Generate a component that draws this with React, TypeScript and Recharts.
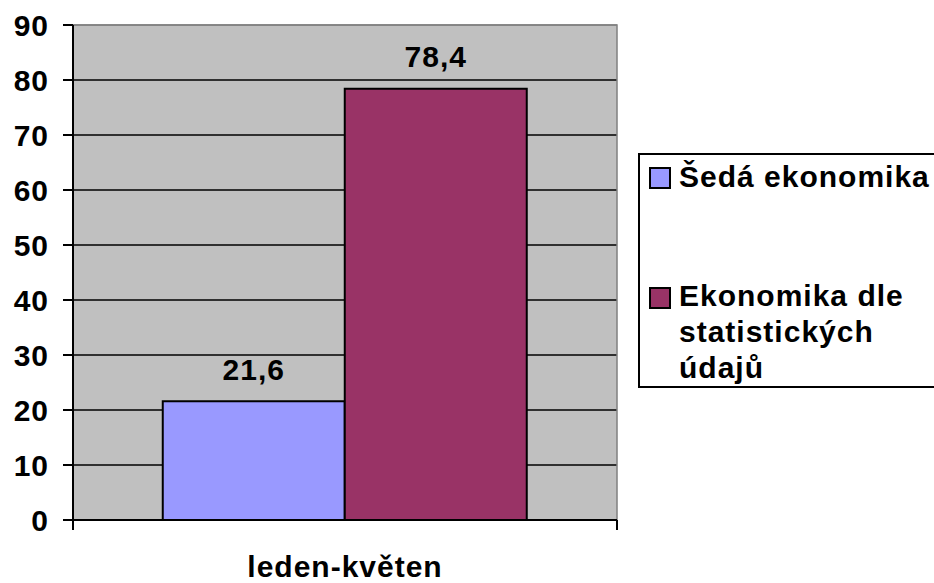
import { Bar, BarChart, CartesianGrid, LabelList, ReferenceArea, XAxis, YAxis } from "recharts";

// chart values
const periods = ["leden-květen"];
const shadowEconomy = [21.6];
const officialEconomy = [78.4];
const yTicks = [0, 10, 20, 30, 40, 50, 60, 70, 80, 90];
const seriesNames = ["Šedá ekonomika", "Ekonomika dle statistických údajů"];
const seriesColors = ["#9999ff", "#993366"];

const W = 934;
const H = 583;
const MARGIN = { top: 25, right: 317, bottom: 0, left: 0 };
const Y_W = 73;
const X_H = 63;
const FONT = '"Liberation Sans", Arial, Helvetica, sans-serif';
const TXT = { fontFamily: FONT, fontSize: 30, fontWeight: 700, letterSpacing: 1 };

const rows = periods.map((p, i) => ({
  period: p,
  shadow: shadowEconomy[i],
  official: officialEconomy[i],
}));

const fmt = (v: unknown) => String(v).replace(".", ",");

// half of one category band, derived from the layout
const HALF_BAND = (W - MARGIN.left - MARGIN.right - Y_W) / periods.length / 2;

const XTick = (props: any) => {
  const { x, y, payload } = props;
  return (
    <g>
      <line x1={x - HALF_BAND} x2={x - HALF_BAND} y1={y} y2={y + 10} stroke="#000" strokeWidth={2} />
      <line x1={x + HALF_BAND} x2={x + HALF_BAND} y1={y} y2={y + 10} stroke="#000" strokeWidth={2} />
      <text x={x} y={y + 57} textAnchor="middle" fill="#000" style={TXT}>
        {payload.value}
      </text>
    </g>
  );
};

const gridLine = (p: any) => {
  const top = p.y1 <= MARGIN.top + 0.5;
  return (
    <line
      key={`h-${p.index}`}
      x1={p.x1}
      x2={p.x2}
      y1={p.y1}
      y2={p.y2}
      stroke={top ? "#808080" : "#000"}
      strokeWidth={1.5}
    />
  );
};

function SideLegend() {
  const sq = (color: string, top: number) => (
    <div
      style={{
        position: "absolute",
        left: 9,
        top,
        width: 18,
        height: 18,
        background: color,
        border: "2px solid #000",
      }}
    />
  );
  const label = (text: string, top: number) => (
    <div
      style={{
        position: "absolute",
        left: 39,
        top,
        width: 256,
        fontFamily: FONT,
        fontSize: 30,
        fontWeight: 700,
        letterSpacing: 1,
        lineHeight: "36px",
        color: "#000",
      }}
    >
      {text}
    </div>
  );
  return (
    <div
      style={{
        position: "absolute",
        left: 638,
        top: 153,
        width: W - 638,
        height: 235,
        borderTop: "2px solid #000",
        borderLeft: "2px solid #000",
        borderBottom: "2px solid #000",
        background: "#fff",
        boxSizing: "border-box",
        overflow: "hidden",
      }}
    >
      {sq(seriesColors[0], 12)}
      {label(seriesNames[0], 4)}
      {sq(seriesColors[1], 132)}
      {label(seriesNames[1], 123)}
    </div>
  );
}

export default function App() {
  return (
    <div style={{ position: "relative", width: W, height: H, background: "#fff" }}>
      <style>{"body{margin:0;overflow:hidden}"}</style>
      <BarChart
        width={W}
        height={H}
        data={rows}
        margin={MARGIN}
        barCategoryGap="16.5%"
        barGap={0}
      >
        <CartesianGrid
          vertical={false}
          horizontal={gridLine}
          fill="#c0c0c0"
          fillOpacity={1}
        />
        <ReferenceArea y1={0} y2={90} fill="none" stroke="#808080" strokeWidth={1.5} ifOverflow="visible" />
        <XAxis
          dataKey="period"
          height={X_H}
          axisLine={{ stroke: "#000", strokeWidth: 2 }}
          tickLine={false}
          tickSize={0}
          tickMargin={0}
          tick={<XTick />}
        />
        <YAxis
          width={Y_W}
          domain={[0, 90]}
          ticks={yTicks}
          interval={0}
          axisLine={{ stroke: "#000", strokeWidth: 2 }}
          tickLine={{ stroke: "#000", strokeWidth: 2 }}
          tickSize={10}
          tickMargin={14}
          tick={{ fill: "#000", ...TXT }}
        />
        <Bar dataKey="shadow" name={seriesNames[0]} fill={seriesColors[0]} stroke="#000" strokeWidth={2} isAnimationActive={false}>
          <LabelList dataKey="shadow" position="top" offset={21.5} formatter={fmt} fill="#000" style={TXT} />
        </Bar>
        <Bar dataKey="official" name={seriesNames[1]} fill={seriesColors[1]} stroke="#000" strokeWidth={2} isAnimationActive={false}>
          <LabelList dataKey="official" position="top" offset={21.5} formatter={fmt} fill="#000" style={TXT} />
        </Bar>
      </BarChart>
      <SideLegend />
    </div>
  );
}
